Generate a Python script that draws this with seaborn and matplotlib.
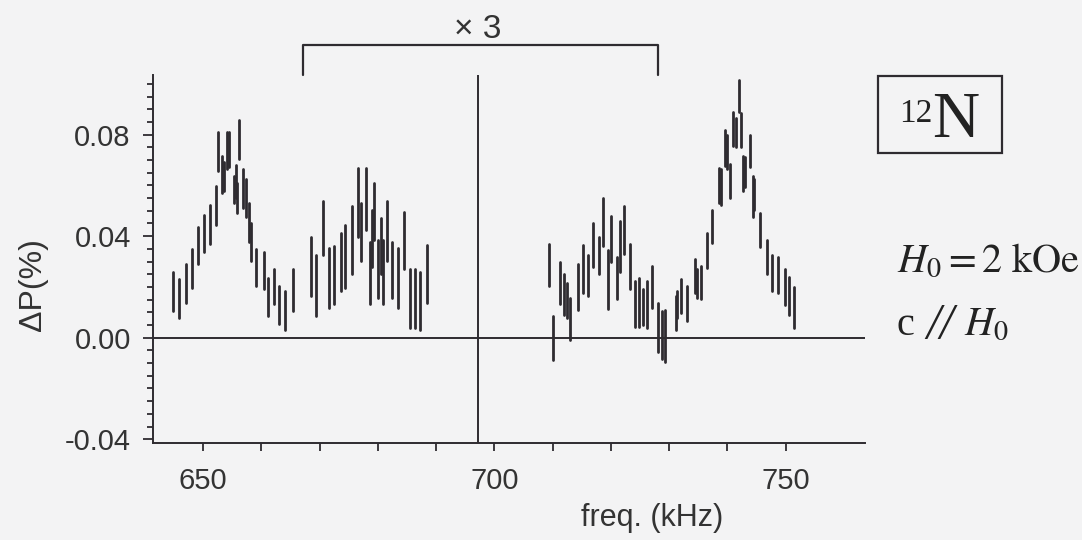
import matplotlib
matplotlib.use("Agg")
import matplotlib.pyplot as plt
import seaborn as sns
import pandas as pd
from matplotlib.patches import Rectangle
from matplotlib.ticker import FixedLocator, MultipleLocator

# error bars: frequency (kHz), top and bottom of each bar (%)
freq = [644.9, 645.9, 647.0, 648.1, 649.1, 650.2, 651.1, 652.2, 652.6, 653.2,
        653.6, 654.1, 654.5, 655.3, 655.7, 655.9, 656.2, 656.8, 657.4, 657.8,
        658.2, 659.1, 660.4, 661.1, 662.2, 663.1, 664.1, 665.5,
        668.6, 669.4, 670.6, 671.6, 672.5, 673.6, 674.4, 675.6, 676.5, 677.1,
        677.9, 678.6, 679.0, 679.4, 680.0, 680.5, 680.9, 681.5, 682.5, 683.5,
        684.5, 685.5, 686.3, 687.3, 688.5,
        709.3, 710.1, 711.2, 712.0, 712.5, 713.0, 714.3, 715.2, 716.1, 717.0,
        718.0, 718.6, 719.5, 720.0, 721.1, 721.6, 722.2, 723.2, 724.2, 724.8,
        725.5, 726.1, 727.1, 728.1, 728.7, 729.2,
        731.1, 731.4, 732.1, 733.1, 734.4, 734.7, 735.4, 736.4, 737.4, 738.5,
        738.9, 739.6, 740.0, 740.4, 741.0, 741.4, 742.0, 742.3, 742.6, 743.0,
        743.9, 744.3, 744.6, 745.6, 746.7, 747.6, 748.7, 749.8, 750.6, 751.4]
dp_hi = [0.0257, 0.0232, 0.0290, 0.0350, 0.0436, 0.0484, 0.0524, 0.0596, 0.0810, 0.0716,
         0.0692, 0.0810, 0.0810, 0.0636, 0.0680, 0.0610, 0.0856, 0.0664, 0.0624, 0.0530,
         0.0450, 0.0350, 0.0336, 0.0236, 0.0272, 0.0204, 0.0184, 0.0272,
         0.0397, 0.0324, 0.0537, 0.0352, 0.0360, 0.0412, 0.0444, 0.0517, 0.0670, 0.0532,
         0.0670, 0.0377, 0.0504, 0.0610, 0.0384, 0.0472, 0.0384, 0.0537, 0.0377, 0.0352,
         0.0497, 0.0271, 0.0271, 0.0257, 0.0364,
         0.0371, 0.0084, 0.0297, 0.0251, 0.0217, 0.0157, 0.0291, 0.0364, 0.0324, 0.0450,
         0.0397, 0.0550, 0.0344, 0.0480, 0.0317, 0.0460, 0.0520, 0.0371, 0.0224, 0.0237,
         0.0191, 0.0224, 0.0284, 0.0137, 0.0104, 0.0111,
         0.0164, 0.0184, 0.0231, 0.0204, 0.0311, 0.0272, 0.0284, 0.0412, 0.0504, 0.0670,
         0.0664, 0.0817, 0.0797, 0.0684, 0.0891, 0.0864, 0.1017, 0.0884, 0.0717, 0.0712,
         0.0797, 0.0637, 0.0624, 0.0491, 0.0384, 0.0324, 0.0317, 0.0270, 0.0240, 0.0200]
dp_lo = [0.0104, 0.0077, 0.0136, 0.0197, 0.0290, 0.0337, 0.0370, 0.0444, 0.0656, 0.0570,
         0.0576, 0.0664, 0.0671, 0.0530, 0.0550, 0.0490, 0.0704, 0.0510, 0.0476, 0.0376,
         0.0304, 0.0204, 0.0190, 0.0084, 0.0132, 0.0052, 0.0032, 0.0104,
         0.0164, 0.0084, 0.0324, 0.0117, 0.0133, 0.0184, 0.0197, 0.0252, 0.0397, 0.0304,
         0.0424, 0.0132, 0.0277, 0.0384, 0.0157, 0.0252, 0.0132, 0.0304, 0.0157, 0.0117,
         0.0271, 0.0037, 0.0037, 0.0031, 0.0137,
         0.0204, -0.0089, 0.0131, 0.0091, 0.0077, -0.0009, 0.0111, 0.0177, 0.0164, 0.0280,
         0.0250, 0.0360, 0.0112, 0.0300, 0.0151, 0.0260, 0.0330, 0.0191, 0.0044, 0.0044,
         0.0051, 0.0037, 0.0117, -0.0056, -0.0083, -0.0096,
         0.0031, 0.0077, 0.0097, 0.0064, 0.0177, 0.0157, 0.0152, 0.0276, 0.0372, 0.0532,
         0.0524, 0.0677, 0.0664, 0.0552, 0.0757, 0.0752, 0.0891, 0.0752, 0.0577, 0.0592,
         0.0671, 0.0477, 0.0504, 0.0357, 0.0251, 0.0184, 0.0177, 0.0130, 0.0090, 0.0040]

x_ticks = [650, 700, 750]
x_minor = [660, 670, 680, 690, 710, 720, 730, 740]
y_ticks = [-0.04, 0.00, 0.04, 0.08]
y_tick_labels = ["-0.04", "0.00", "0.04", "0.08"]
center_freq = 697.2           # vertical marker line
scaled_span = (667.2, 728.1)  # region marked "x 3"

sns.set_theme(style="ticks")
plt.rcParams["font.family"] = ["Liberation Sans", "DejaVu Sans"]
plt.rcParams["mathtext.fontset"] = "stix"

ink = "#2e2b30"
txt = "#333"
W, H = 1082, 540

def fx(px):
    return px / W

def fy(py):
    return 1 - py / H

fig = plt.figure(figsize=(10.82, 5.4), dpi=100, facecolor="#f3f3f4")
ax = fig.add_axes([fx(153), fy(443), fx(865) - fx(153), fy(75) - fy(443)])
ax.set_facecolor("none")

# each error bar is one unit with a low and a high point
bars = pd.DataFrame({"freq": freq, "lo": dp_lo, "hi": dp_hi})
bars["bar"] = range(len(bars))
long = bars.melt(id_vars=["bar", "freq"], value_vars=["lo", "hi"], value_name="dp")
sns.lineplot(data=long, x="freq", y="dp", units="bar", estimator=None,
             color=ink, lw=2.0, ax=ax, legend=False)

ax.axhline(0, color=ink, lw=1.4)
ax.axvline(center_freq, color=ink, lw=1.4)

ax.set_xlim(641.4, 763.6)
ax.set_ylim(-0.0415, 0.1035)
ax.set_xticks(x_ticks)
ax.xaxis.set_minor_locator(FixedLocator(x_minor))
ax.set_yticks(y_ticks)
ax.set_yticklabels(y_tick_labels)
ax.yaxis.set_minor_locator(MultipleLocator(0.005))
ax.tick_params(axis="both", which="both", direction="out", color=ink, width=1.3,
               labelsize=21, labelcolor=txt)
ax.tick_params(axis="x", which="both", length=6, pad=11)
ax.tick_params(axis="y", which="major", length=7, pad=9)
ax.tick_params(axis="y", which="minor", length=4.5)
ax.set_xlabel("")
ax.set_ylabel("")
sns.despine(ax=ax)
for s in ["left", "bottom"]:
    ax.spines[s].set_color(ink)
    ax.spines[s].set_linewidth(1.4)

fig.text(fx(33), fy(285), "ΔP(%)", rotation=90, ha="center", va="center",
         fontsize=23, color=txt)
fig.text(fx(652), fy(518), "freq. (kHz)", ha="center", va="center",
         fontsize=22, color=txt)

# x3 bracket above the middle part
ax.plot([scaled_span[0], scaled_span[0], scaled_span[1], scaled_span[1]],
        [0.1036, 0.1152, 0.1152, 0.1036], color=ink, lw=1.6, clip_on=False)
fig.text(fx(478), fy(30), "× 3", ha="center", va="center", fontsize=24, color=txt)

# nucleus box and field conditions
fig.patches.append(Rectangle((fx(878), fy(153)), fx(1002) - fx(878), fy(76) - fy(153),
                             transform=fig.transFigure, fill=False, ec=ink, lw=1.6))
serif = "Liberation Serif"
fig.text(fx(899), fy(122), "12", ha="left", va="baseline", fontsize=24,
         family=serif, color="#222")
fig.text(fx(932), fy(137), "N", ha="left", va="baseline", fontsize=47,
         family=serif, color="#222")
fig.text(fx(897), fy(272), r"$H_0 = 2\ \mathrm{kOe}$", ha="left", va="baseline",
         fontsize=29, color="#222")
fig.text(fx(897), fy(335), "c", ha="left", va="baseline", fontsize=29,
         family=serif, color="#222")
fig.text(fx(926), fy(338), "//", ha="left", va="baseline", fontsize=36,
         family=serif, style="italic", color="#222")
fig.text(fx(964), fy(335), r"$H_0$", ha="left", va="baseline", fontsize=29,
         color="#222")

fig.savefig("out.png", dpi=100, facecolor=fig.get_facecolor())
